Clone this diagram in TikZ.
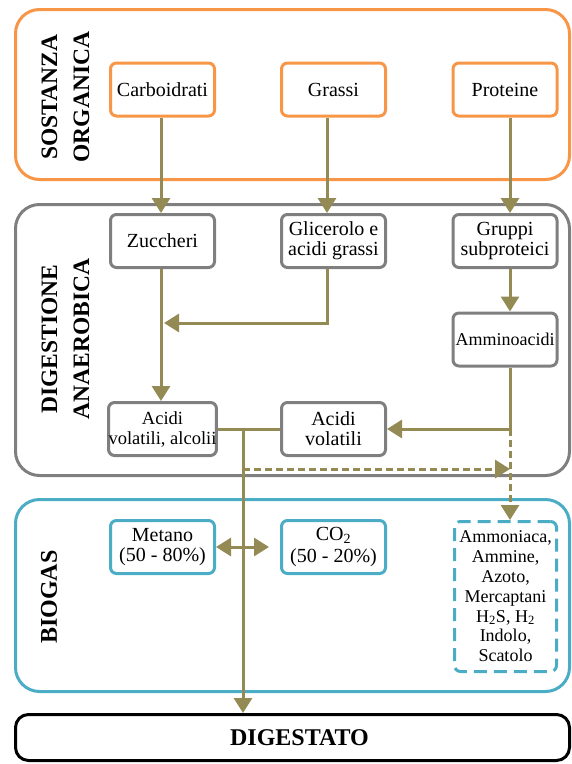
\documentclass[tikz,border=0pt]{standalone}
\usepackage{fontspec}
\setmainfont{Liberation Serif}
\usetikzlibrary{arrows.meta}
\definecolor{cOr}{HTML}{F79646}
\definecolor{cGr}{HTML}{7F7F7F}
\definecolor{cBl}{HTML}{4BACC6}
\definecolor{cOl}{HTML}{948A54}
\begin{document}
\begin{tikzpicture}[x=1pt,y=-1pt,
  big/.style={draw, line width=3pt, rounded corners=24pt, minimum width=554pt, inner sep=0pt},
  ibox/.style={draw, line width=3pt, rounded corners=6pt, minimum width=104pt, minimum height=53pt, inner sep=0pt, align=center, font=\fontsize{20}{20}\selectfont, fill=white},
  ttl/.style={rotate=90, font=\bfseries\fontsize{23.5}{32}\selectfont, align=center},
  conn/.style={draw=cOl, line width=3pt},
  flow/.style={conn, -{Triangle[width=18pt,length=15pt]}},
  dflow/.style={flow, dash pattern=on 7pt off 4pt},
  dbl/.style={conn, {Triangle[width=18pt,length=15pt]}-{Triangle[width=18pt,length=15pt]}}
]
\useasboundingbox (0,0) rectangle (572,764);
% big frames
\node[big, draw=cOr, minimum height=170pt] (so) at (292.5,94.5) {};
\node[big, draw=cGr, minimum height=271pt] (da) at (292.5,340) {};
\node[big, draw=cBl, minimum height=192pt] (bg) at (292.5,595.5) {};
\node[big, draw=black, rounded corners=13pt, minimum height=46pt, font=\bfseries\fontsize{24}{24}\selectfont] (dig) at (292.5,737.5) {\hspace{14pt}\textbf{DIGESTATO}};
% titles
\node[ttl] (t1) at (65.5,97) {\textbf{SOSTANZA}\\\textbf{ORGANICA}};
\node[ttl] (t2) at (65.5,339) {\textbf{DIGESTIONE}\\\textbf{ANAEROBICA}};
\node[ttl, font=\bfseries\fontsize{24}{32}\selectfont] (t3) at (49,597) {\textbf{BIOGAS}};
% inner boxes
\node[ibox, draw=cOr] (carb) at (162.5,89.5) {Carboidrati};
\node[ibox, draw=cOr] (gra) at (333.5,89.5) {Grassi};
\node[ibox, draw=cOr] (pro) at (505,89.5) {Proteine};
\node[ibox, draw=cGr] (zuc) at (162.5,241) {Zuccheri};
\node[ibox, draw=cGr] (gli) at (333.5,241) {Glicerolo e\\acidi grassi};
\node[ibox, draw=cGr] (gru) at (505,241) {Gruppi\\subproteici};
\node[ibox, draw=cGr, font=\fontsize{18}{20}\selectfont] (amm) at (505,339.5) {Amminoacidi};
\node[ibox, draw=cGr, font=\fontsize{18.5}{20}\selectfont] (av1) at (162.5,429) {Acidi\\volatili, alcolii};
\node[ibox, draw=cGr] (av2) at (333.5,429) {Acidi\\volatili};
\node[ibox, draw=cBl] (met) at (162.5,547) {Metano\\(50 - 80\%)};
\node[ibox, draw=cBl, font=\fontsize{20}{22}\selectfont] (co2) at (333.5,547) {CO\textsubscript{2}\\(50 - 20\%)};
\node[ibox, draw=cBl, dash pattern=on 13pt off 7pt, minimum width=102pt, minimum height=150pt, font=\fontsize{18}{19.8}\selectfont] (dbox) at (505.5,596.5)
  {Ammoniaca,\\Ammine,\\Azoto,\\Mercaptani\\H\textsubscript{2}S, H\textsubscript{2}\\Indolo,\\Scatolo};
% connectors
\draw[flow] ([xshift=-1.5pt]carb.south) -- ([xshift=-1.5pt]zuc.north);
\draw[flow] ([xshift=-6.5pt]gra.south) -- ([xshift=-6.5pt]gli.north);
\draw[flow] ([xshift=5pt]pro.south) -- ([xshift=5pt]gru.north);
\draw[flow] ([xshift=5pt]gru.south) -- ([xshift=5pt]amm.north);
\draw[flow] ([xshift=-1.5pt]zuc.south) -- ([xshift=-1.5pt]av1.north);
\coordinate (gj) at (161,323);
\draw[flow, shorten >=3pt] ([xshift=-6.5pt]gli.south) |- (gj);
\coordinate (aj) at (510,429);
\draw[flow] (aj |- amm.south) -- (aj) -- (av2.east);
\draw[conn] (av1.east) -- (av2.west);
\coordinate (j) at (243,429);
\coordinate (dj) at (243,469);
\draw[dbl, shorten >=11pt] (met.east) -- (co2.west);
\draw[flow] (j) -- (j |- dig.north);
\draw[dflow] (dj) -- (aj |- dj);
\draw[dflow] (aj) -- (aj |- dbox.north);
\end{tikzpicture}
\end{document}
